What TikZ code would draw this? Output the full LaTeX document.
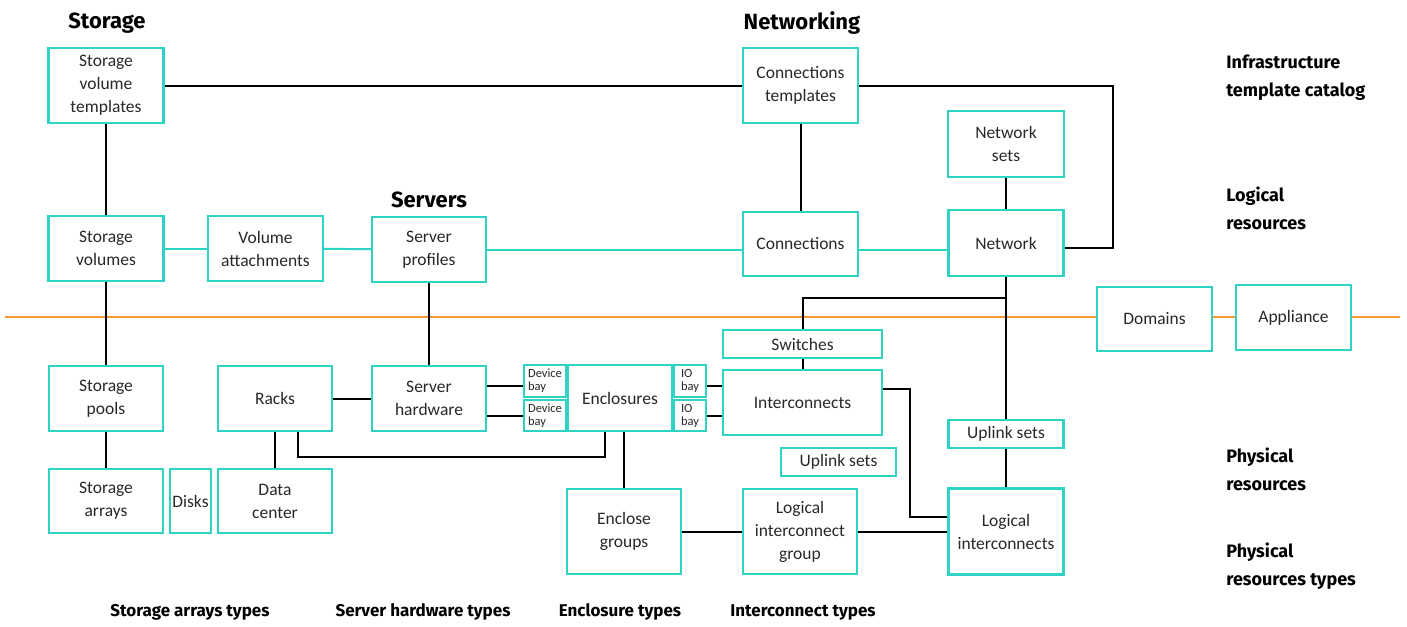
\documentclass[tikz,border=0pt]{standalone}
\usepackage{fontspec}
\setmainfont{Carlito}
\newfontfamily\headfont{Fira Sans}
\definecolor{box_teal}{RGB}{45,212,198}
\definecolor{line_orange}{RGB}{245,152,45}
\definecolor{text_gray}{RGB}{40,40,40}

\begin{document}
\begin{tikzpicture}[x=1pt,y=-1pt,line width=2pt]
    \tikzstyle{box}=[draw=box_teal, line width=2.4pt, fill=white, rectangle, inner sep=0pt, minimum width=115pt, minimum height=65pt, align=center, text=text_gray, font=\fontsize{17.5}{23}\selectfont]
    \tikzstyle{bay}=[style=box, minimum height=32pt, align=left, font=\fontsize{12.5}{13}\selectfont]
    \tikzstyle{thin}=[style=box, minimum height=28pt]
    \tikzstyle{head}=[text=black, font=\headfont\bfseries\fontsize{22}{24}\selectfont]
    \tikzstyle{foot}=[text=black, font=\headfont\bfseries\fontsize{17}{20}\selectfont]
    \tikzstyle{tier}=[text=black, anchor=west, align=left, font=\headfont\bfseries\fontsize{18}{28}\selectfont]
    \tikzstyle{link}=[draw=black]
    \tikzstyle{tlink}=[draw=box_teal]

    \useasboundingbox (0,0) rectangle (1407,626);

    % divider between logical and physical
    \coordinate (oL) at (5,317);
    \coordinate (oR) at (1400,317);
    \draw[line_orange] (oL) -- (oR);

    \node[head] (storage)    at (107,23)  {Storage};
    \node[head] (networking) at (802,23)  {Networking};
    \node[head] (servers)    at (429,200) {Servers};

    \node[box, minimum height=75pt] (svt)  at (106,85.5) {Storage\\volume\\templates};
    \node[box, minimum height=75pt] (ct)   at (800.5,85.5) {Connections\\templates};
    \node[box, minimum width=116pt, minimum height=66pt] (ns) at (1006,144) {Network\\sets};

    \node[box] (sv)   at (106,248.5) {Storage\\volumes};
    \node[box] (va)   at (265.5,248.5) {Volume\\attachments};
    \node[box, minimum width=114pt] (sp) at (429,249.5) {Server\\profiles};
    \node[box, minimum height=64pt] (conn) at (800.5,244) {Connections};
    \node[box, minimum height=66pt] (net)  at (1006,243) {Network};

    \node[box, minimum height=64pt] (dom) at (1154.5,319) {Domains};
    \node[box] (app) at (1293.5,317.5) {Appliance};

    \node[box, minimum width=114pt] (spool) at (106,398.5) {Storage\\pools};
    \node[box, minimum width=114pt] (racks) at (275,398.5) {Racks};
    \node[box, minimum width=114pt] (sh)    at (429,398.5) {Server\\hardware};
    \node[bay, minimum width=42pt] (db1) at (545,381)   {Device\\bay};
    \node[bay, minimum width=42pt, minimum height=31pt] (db2) at (545,415.5) {Device\\bay};
    \node[box, minimum width=104pt, minimum height=66pt] (enc) at (620,398) {Enclosures};
    \node[bay, minimum width=32pt] (io1) at (690,381)   {IO\\bay};
    \node[bay, minimum width=32pt, minimum height=31pt] (io2) at (690,415.5) {IO\\bay};
    \node[thin, minimum width=159pt] (sw) at (802.5,344)   {Switches};
    \node[box, minimum width=159pt]  (ic) at (802.5,402.5) {Interconnects};
    \node[thin] (ul1) at (838.5,462) {Uplink sets};
    \node[thin] (ul2) at (1006,434) {Uplink sets};

    \node[box, minimum width=114pt, minimum height=64pt] (sarr)  at (106,501)   {Storage\\arrays};
    \node[box, minimum width=41pt, minimum height=64pt]  (disks) at (190.5,501) {Disks};
    \node[box, minimum width=114pt, minimum height=64pt] (dc)    at (275,501)   {Data\\center};
    \node[box, minimum width=114pt, minimum height=85pt] (eg)  at (624,531.5)  {Enclose\\groups};
    \node[box, minimum width=114pt, minimum height=85pt] (lig) at (800,531.5)  {Logical\\interconnect\\group};
    \node[box, minimum height=86pt] (li) at (1006,531.5) {Logical\\interconnects};

    \node[foot] (fsa) at (190,612) {Storage arrays types};
    \node[foot] (fsh) at (423,612) {Server hardware types};
    \node[foot] (fen) at (620,612) {Enclosure types};
    \node[foot] (fic) at (803,612) {Interconnect types};

    \node[tier] (t1) at (1222,78)  {Infrastructure\\template catalog};
    \node[tier] (t2) at (1222,208) {Logical\\resources};
    \node[tier] (t3) at (1222,469) {Physical\\resources};
    \node[tier] (t4) at (1222,566) {Physical\\resources types};

    \coordinate (xr) at (1113,0);
    \coordinate (br) at (0,298);
    \coordinate (rk) at (298,457);
    \coordinate (ek) at (605,457);
    \coordinate (ix) at (910,450);

    \path
     (svt)   edge[link] (ct)
     (svt)   edge[link] (sv)
     (ct)    edge[link] (conn)
     (ns)    edge[link] (net)
     (sv)    edge[tlink] (va)
     (va)    edge[tlink] (sp)
     (sv)    edge[link] (spool)
     (spool) edge[link] (sarr)
     (sp)    edge[link] (sh)
     (racks) edge[link] (sh)
     (racks) edge[link] (dc)
     (sw)    edge[link] (ic)
     (ul2)   edge[link] (li)
     (eg)    edge[link] (lig)
     (lig)   edge[link] (li)
     ;
    \draw[tlink] (sp.east) -- (sp.east -| conn.west);
    \draw[tlink] (sp.east -| conn.east) -- (sp.east -| net.west);
    \draw[link] (ct.east) -- (ct.east -| xr) -- ([yshift=-5pt]net.east -| xr) -- ([yshift=-5pt]net.east);
    \draw[link] (net.south) -- (ul2.north);
    \draw[link] (net.south |- br) -| (sw.north);
    \draw[link] ([yshift=-5pt]db1.west) -- ([yshift=-5pt]db1.west -| sh.east);
    \draw[link] (db2.west) -- (db2.west -| sh.east);
    \draw[link] ([yshift=-5pt]io1.east) -- ([yshift=-5pt]io1.east -| ic.west);
    \draw[link] (io2.east) -- (io2.east -| ic.west);
    \draw[link] (racks.south -| rk) -- (rk) -- (ek) -- (ek |- enc.south);
    \draw[link] (eg.north |- enc.south) -- (eg.north);
    \draw[link] ([yshift=14pt]ic.east) -| (ix) |- ([yshift=15pt]li.west);
\end{tikzpicture}
\end{document}
